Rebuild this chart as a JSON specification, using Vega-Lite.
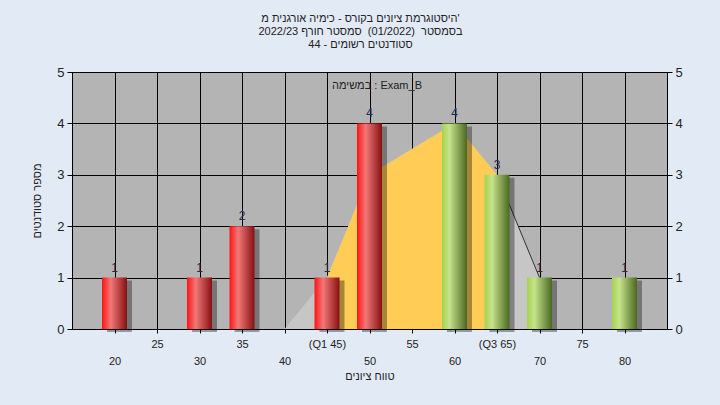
{
  "$schema": "https://vega.github.io/schema/vega-lite/v6.json",
  "autosize": "none",
  "width": 595,
  "height": 257,
  "padding": {"left": 72, "top": 72, "right": 53, "bottom": 76},
  "background": "#E2EAF6",
  "config": {
    "font": "Liberation Sans",
    "view": {"fill": "#B4B4B4", "stroke": "#000000", "strokeWidth": 1},
    "axis": {"domainColor": "#000", "tickColor": "#000", "gridColor": "#000", "gridOpacity": 1, "labelColor": "#222", "titleColor": "#222", "titleFontWeight": "normal"}
  },
  "title": {
    "text": ["היסטוגרמת ציונים בקורס - כימיה אורגנית מ'", "בסמסטר \u00a0(01/2022) \u00a0סמסטר חורף 2022/23", "סטודנטים רשומים - 44"],
    "fontSize": 11,
    "fontWeight": "normal",
    "color": "#222",
    "lineHeight": 13,
    "anchor": "middle",
    "dx": -9,
    "offset": 16
  },
  "datasets": {
    "bars": [
      {"score": 20, "count": 1, "group": "red"},
      {"score": 30, "count": 1, "group": "red"},
      {"score": 35, "count": 2, "group": "red"},
      {"score": 45, "count": 1, "group": "red"},
      {"score": 50, "count": 4, "group": "red"},
      {"score": 60, "count": 4, "group": "green"},
      {"score": 65, "count": 3, "group": "green"},
      {"score": 70, "count": 1, "group": "green"},
      {"score": 80, "count": 1, "group": "green"}
    ],
    "curve": [
      {"score": 40, "count": 0},
      {"score": 45, "count": 1},
      {"score": 50, "count": 3},
      {"score": 55, "count": 3.5},
      {"score": 60, "count": 4},
      {"score": 65, "count": 3},
      {"score": 70, "count": 1}
    ]
  },
  "encoding": {
    "x": {
      "field": "score",
      "type": "quantitative",
      "scale": {"domain": [15, 85], "nice": false, "zero": false, "padding": 0},
      "axis": {
        "values": [20, 25, 30, 35, 40, 45, 50, 55, 60, 65, 70, 75, 80],
        "title": "טווח ציונים",
        "titleFontSize": 11,
        "titlePadding": 4,
        "labelFontSize": 11,
        "labelLineHeight": 17,
        "labelPadding": 5,
        "labelOverlap": false,
        "labelFlush": false,
        "tickSize": 4,
        "grid": true,
        "gridColor": "#000",
        "labelExpr": "datum.value % 10 == 0 ? ['', datum.label] : (datum.value == 45 ? '(Q1 45)' : (datum.value == 65 ? '(Q3 65)' : datum.label))"
      }
    }
  },
  "layer": [
    {
      "data": {"name": "curve"},
      "mark": {"type": "area", "color": "#C6C6C6"},
      "encoding": {
        "y": {
          "field": "count",
          "type": "quantitative",
          "scale": {"domain": [0, 5], "nice": false},
          "axis": {"values": [0, 1, 2, 3, 4, 5], "title": "מספר סטודנטים", "titleFontSize": 11, "titlePadding": 14, "labelFontSize": 13, "tickSize": 5, "labelPadding": 3, "grid": true}
        }
      }
    },
    {
      "data": {"name": "curve"},
      "transform": [{"filter": "datum.score >= 45 && datum.score <= 65"}],
      "mark": {"type": "area", "color": "#FFCC55"},
      "encoding": {"y": {"field": "count", "type": "quantitative", "axis": null}}
    },
    {
      "data": {"name": "curve"},
      "transform": [{"filter": "datum.score >= 65"}],
      "mark": {"type": "line", "strokeWidth": 1},
      "encoding": {
        "y": {"field": "count", "type": "quantitative", "axis": null},
        "color": {
          "datum": "במשימה : Exam_B",
          "type": "nominal",
          "scale": {"range": ["#333333"]},
          "legend": {
            "orient": "none",
            "legendX": 249,
            "legendY": 8,
            "title": null,
            "padding": 0,
            "symbolSize": 0,
            "symbolOpacity": 0,
            "symbolStrokeWidth": 0,
            "labelOffset": 0,
            "labelFontSize": 11,
            "labelColor": "#222",
            "labelLimit": 300
          }
        }
      }
    },
    {
      "data": {"name": "bars"},
      "mark": {"type": "bar", "size": 25, "color": "#000000", "opacity": 0.35, "xOffset": 5, "yOffset": 3},
      "encoding": {"y": {"field": "count", "type": "quantitative", "axis": null}}
    },
    {
      "data": {"name": "bars"},
      "transform": [{"filter": "datum.group == 'red'"}],
      "mark": {
        "type": "bar",
        "size": 25,
        "color": {"gradient": "linear", "x1": 0, "y1": 0, "x2": 1, "y2": 0, "stops": [
          {"offset": 0, "color": "#FF1414"},
          {"offset": 0.35, "color": "#F27878"},
          {"offset": 1, "color": "#861010"}
        ]}
      },
      "encoding": {"y": {"field": "count", "type": "quantitative", "axis": null}}
    },
    {
      "data": {"name": "bars"},
      "transform": [{"filter": "datum.group == 'green'"}],
      "mark": {
        "type": "bar",
        "size": 25,
        "color": {"gradient": "linear", "x1": 0, "y1": 0, "x2": 1, "y2": 0, "stops": [
          {"offset": 0, "color": "#A6D24E"},
          {"offset": 0.3, "color": "#C6E28C"},
          {"offset": 1, "color": "#4A6820"}
        ]}
      },
      "encoding": {"y": {"field": "count", "type": "quantitative", "axis": null}}
    },
    {
      "data": {"name": "bars"},
      "mark": {"type": "text", "baseline": "bottom", "dy": -3, "fontSize": 12, "color": "#2A2A48"},
      "encoding": {
        "y": {"field": "count", "type": "quantitative", "axis": {"orient": "right", "values": [0, 1, 2, 3, 4, 5], "title": null, "labelFontSize": 13, "tickSize": 5, "labelPadding": 3, "grid": false}},
        "text": {"field": "count"}
      }
    }
  ],
  "resolve": {"axis": {"y": "independent"}, "scale": {"y": "shared"}}
}
